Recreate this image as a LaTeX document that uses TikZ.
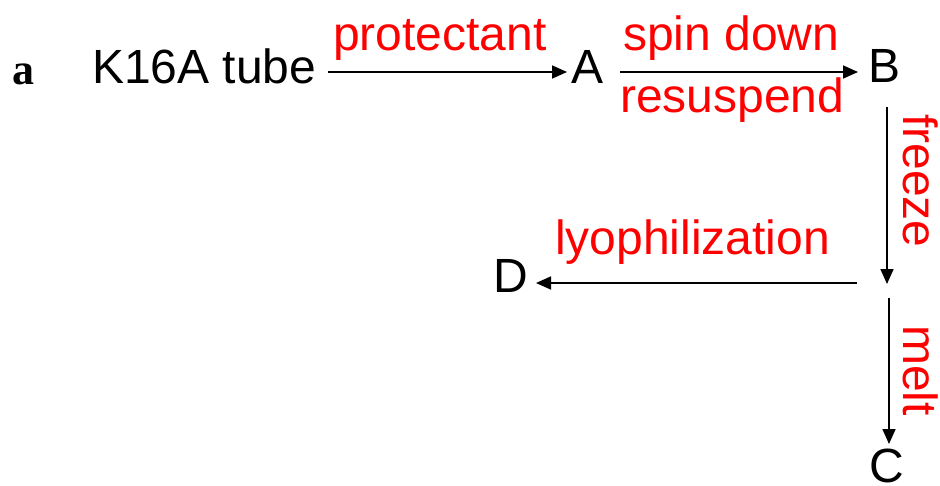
\documentclass[tikz,border=0pt]{standalone}
\usepackage{fontspec}
\setmainfont{Liberation Sans}
\newfontfamily\serifbf{Liberation Serif}
\usetikzlibrary{arrows.meta}
\begin{document}
\begin{tikzpicture}[x=1pt,y=-1pt,
  lbl/.style={inner sep=0pt,font=\fontsize{48}{56}\selectfont},
  red/.style={lbl,text={rgb,255:red,255;green,0;blue,0}},
  arr/.style={line width=1.7pt,-{Triangle[length=15pt,width=13pt]}}]
\useasboundingbox (0,0) rectangle (940,485);
\node[inner sep=0pt,anchor=base west,font=\fontsize{44}{50}\selectfont\serifbf\bfseries] (lab) at (12,84) {a};
\node[lbl,anchor=base west] (k) at (92,83) {K16A tube};
\node[lbl,anchor=base west] (A) at (571,83) {A};
\node[lbl,anchor=base west] (B) at (868,82) {B};
\node[lbl,anchor=base west] (D) at (493,292) {D};
\node[lbl,anchor=base west] (C) at (869,482) {C};
% arrow end points
\coordinate (a1s) at (328,72);
\coordinate (a1e) at (567,72);
\coordinate (a2s) at (620,72);
\coordinate (a2e) at (858,72);
\coordinate (fs) at (887,107);
\coordinate (fe) at (887,284);
\coordinate (ls) at (857,283);
\coordinate (le) at (536,283);
\coordinate (ms) at (889,298);
\coordinate (me) at (889,444);
\draw[arr] (a1s) -- (a1e);
\draw[arr] (a2s) -- (a2e);
\draw[arr] (fs) -- (fe);
\draw[arr] (ls) -- (le);
\draw[arr] (ms) -- (me);
\node[red,anchor=base west] (prot) at (333,50) {protectant};
\node[red,anchor=base west] (spin) at (623,50) {spin down};
\node[red,anchor=base west] (resus) at (620,112) {resuspend};
\node[red,anchor=base west] (lyo) at (555,254) {lyophilization};
\node[red,anchor=base west,rotate=-90] (frz) at (903,114) {freeze};
\node[red,anchor=base west,rotate=-90] (mlt) at (903,325) {melt};
\end{tikzpicture}
\end{document}
